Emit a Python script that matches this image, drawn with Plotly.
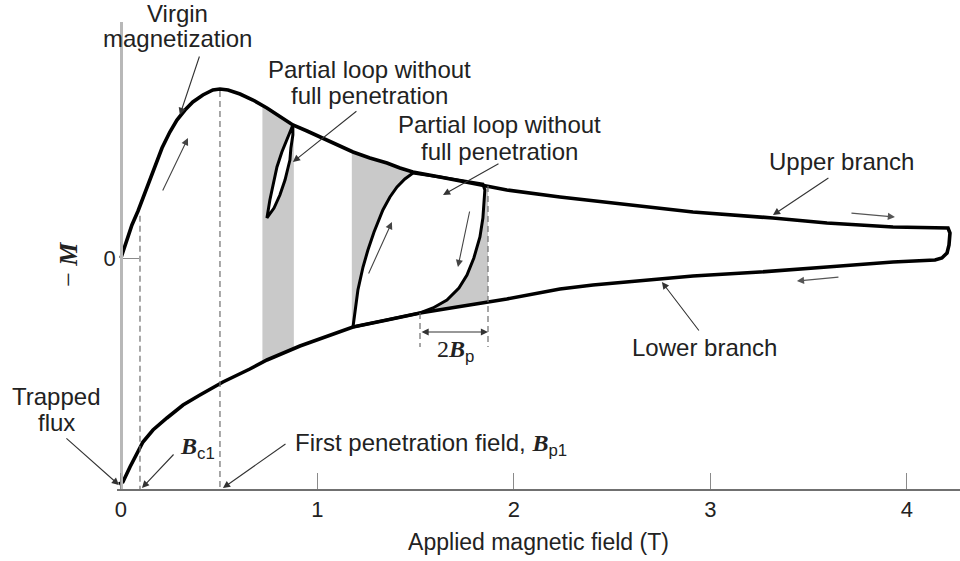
import numpy as np
import plotly.graph_objects as go

# ---------------- data (B in tesla, -M in arbitrary units) ----------------
virgin_B = [0.000, 0.025, 0.056, 0.087, 0.132, 0.173, 0.209, 0.249, 0.285, 0.326, 0.366, 0.417, 0.468, 0.504]
virgin_M = [0.00, 0.15, 0.33, 0.47, 0.71, 0.93, 1.10, 1.26, 1.38, 1.48, 1.56, 1.63, 1.68, 1.69]

upper_B = [0.504, 0.545, 0.606, 0.672, 0.743, 0.809, 0.875, 0.947, 1.028, 1.104, 1.181, 1.267, 1.354,
           1.420, 1.486, 1.623, 1.791, 1.964, 2.234, 2.575, 2.911, 3.318, 3.593, 3.929, 4.209]
upper_M = [1.69, 1.68, 1.64, 1.58, 1.50, 1.42, 1.33, 1.27, 1.20, 1.13, 1.06, 1.00, 0.95,
           0.90, 0.86, 0.81, 0.75, 0.68, 0.61, 0.53, 0.46, 0.40, 0.35, 0.31, 0.30]

turn_B = [4.209, 4.219, 4.214, 4.204, 4.178, 4.143]
turn_M = [0.30, 0.25, 0.13, 0.05, 0.00, -0.02]

lower_B = [4.143, 3.929, 3.593, 3.252, 2.911, 2.743, 2.402, 2.234, 1.964, 1.710, 1.522, 1.354, 1.181,
           0.911, 0.743, 0.656, 0.519, 0.402, 0.316, 0.234, 0.163, 0.112, 0.081, 0.046, 0.010, -0.010]
lower_M = [-0.02, -0.04, -0.09, -0.14, -0.18, -0.21, -0.27, -0.31, -0.41, -0.49, -0.55, -0.62, -0.69,
           -0.88, -1.02, -1.11, -1.24, -1.37, -1.47, -1.60, -1.72, -1.84, -1.95, -2.09, -2.24, -2.26]

loop1_B = [0.875, 0.850, 0.819, 0.794, 0.774, 0.758, 0.743, 0.779, 0.809, 0.835, 0.850, 0.860, 0.865, 0.875, 0.875]
loop1_M = [1.33, 1.21, 1.06, 0.91, 0.73, 0.58, 0.40, 0.50, 0.63, 0.78, 0.90, 0.98, 1.10, 1.23, 1.33]

loop2_B = [1.181, 1.191, 1.206, 1.232, 1.257, 1.288, 1.333, 1.369, 1.405, 1.445, 1.486, 1.623, 1.751,
           1.842, 1.852, 1.847, 1.842, 1.827, 1.796, 1.761, 1.720, 1.659, 1.588, 1.522, 1.354, 1.181]
loop2_M = [-0.69, -0.52, -0.32, -0.09, 0.08, 0.26, 0.48, 0.61, 0.71, 0.79, 0.85, 0.81, 0.77,
           0.74, 0.68, 0.53, 0.40, 0.21, 0.00, -0.17, -0.30, -0.42, -0.50, -0.55, -0.62, -0.69]

stripe1_B = [0.72, 0.88]
stripe2_B = [1.175, 1.868]
Bc1 = 0.097
Bp1 = 0.504
twoBp_B = [1.522, 1.868]

x_ticks = [0, 1, 2, 3, 4]
x_ticktext = ["0", "1", "2", "3", "4"]

# ---------------- styles ----------------
SANS = "Liberation Sans, Arial, Helvetica, sans-serif"
SERIF = "Liberation Serif, Times New Roman, serif"
TXT = "#222222"
LBL = 24
CURVE_W = 3.6
GRAY_FILL = "#c9c9c9"

XR = [-0.02, 4.27]
YR = [-2.31, 2.36]

ubA, umA = np.array(upper_B), np.array(upper_M)
lbA, lmA = np.array(lower_B[::-1]), np.array(lower_M[::-1])


def px(x):
    return (x - XR[0]) / (XR[1] - XR[0])


def py(y):
    return (y - YR[0]) / (YR[1] - YR[0])


def stripe(b0, b1):
    xt = [b0] + [b for b in upper_B if b0 < b < b1] + [b1]
    yt = list(np.interp(xt, ubA, umA))
    xb = [b1] + [b for b in lower_B if b0 < b < b1] + [b0]
    yb = list(np.interp(xb, lbA, lmA))
    return xt + xb + [b0], yt + yb + [yt[0]]


fig = go.Figure()

for s in (stripe1_B, stripe2_B):
    sx, sy = stripe(*s)
    fig.add_trace(go.Scatter(x=sx, y=sy, mode="lines", fill="toself", fillcolor=GRAY_FILL,
                             line=dict(width=0, color=GRAY_FILL), hoverinfo="skip", showlegend=False))

for lb, lm in ((loop1_B, loop1_M), (loop2_B, loop2_M)):
    fig.add_trace(go.Scatter(x=lb, y=lm, mode="lines", fill="toself", fillcolor="white",
                             line=dict(width=CURVE_W - 0.6, color="black"), hoverinfo="skip",
                             showlegend=False))

path_B = virgin_B + upper_B[1:] + turn_B[1:] + lower_B[1:]
path_M = virgin_M + upper_M[1:] + turn_M[1:] + lower_M[1:]
fig.add_trace(go.Scatter(x=path_B, y=path_M, mode="lines",
                         line=dict(width=CURVE_W, color="black", shape="linear"),
                         hoverinfo="skip", showlegend=False))

# ---------------- dashed guide lines ----------------
dash_col = "#6e6e6e"
y_bottom = YR[0]
y_low_2bp = -0.89
guides = [
    (Bc1, float(np.interp(Bc1, virgin_B, virgin_M)) - 0.10, y_bottom),
    (Bp1, float(np.interp(Bp1, upper_B, upper_M)) - 0.02, y_bottom),
    (twoBp_B[0], float(np.interp(twoBp_B[0], lbA, lmA)), y_low_2bp),
    (twoBp_B[1], float(np.interp(twoBp_B[1], ubA, umA)), y_low_2bp),
]
for gx, gy0, gy1 in guides:
    fig.add_shape(type="line", xref="x", yref="y", x0=gx, x1=gx, y0=gy0, y1=gy1,
                  line=dict(color=dash_col, width=1.2, dash="6px,4px"), layer="above")

# ---------------- arrows ----------------
def arrow(tail, head, color="#333333", width=1.1, size=1.3, head_style=2, side="end"):
    fig.add_annotation(x=head[0], y=head[1], ax=tail[0], ay=tail[1], xref="x", yref="y",
                       axref="x", ayref="y", text="", showarrow=True, arrowhead=head_style,
                       startarrowhead=head_style, arrowside=side, arrowsize=size,
                       startarrowsize=size, arrowwidth=width, arrowcolor=color)

arrow((0.402, 2.03), (0.300, 1.43))        # virgin magnetization label
arrow((0.209, 0.66), (0.341, 1.20), color="#444444")   # flow along virgin curve
arrow((1.206, 1.48), (0.875, 0.96))        # partial loop 1 label
arrow((1.929, 0.95), (1.639, 0.63))        # partial loop 2 label
arrow((1.257, -0.17), (1.379, 0.36), color="#444444")  # loop 2 ascending
arrow((1.776, 0.48), (1.715, -0.09), color="#444444")  # loop 2 descending
arrow((3.608, 0.81), (3.318, 0.43))        # upper branch label
arrow((3.710, 0.45), (3.939, 0.41), color="#555555")   # upper flow
arrow((3.659, -0.19), (3.440, -0.23), color="#555555") # lower flow
arrow((2.947, -0.74), (2.753, -0.24))      # lower branch label
arrow((-0.285, -1.79), (-0.010, -2.27))    # trapped flux
arrow((0.275, -1.95), (0.107, -2.30))      # Bc1
arrow((0.845, -1.85), (0.519, -2.30))      # first penetration field
arrow((twoBp_B[0], -0.74), (twoBp_B[1], -0.74), side="end+start")  # 2Bp

# ---------------- text labels (placed in paper coords so they may sit outside the axes) ----------------
def label(txt, x, y, xanchor="center", size=LBL, family=SANS, angle=0):
    fig.add_annotation(x=px(x), y=py(y), xref="paper", yref="paper", text=txt, showarrow=False,
                       xanchor=xanchor, yanchor="middle", textangle=angle,
                       font=dict(family=family, size=size, color=TXT))

def italB():
    return "<span style='font-family:Liberation Serif, Times New Roman, serif'><b><i>B</i></b></span>"

label("Virgin", 0.290, 2.45)
label("magnetization", 0.290, 2.19)
label("Partial loop without", 1.267, 1.885)
label("full penetration", 1.267, 1.62)
label("Partial loop without", 1.929, 1.335)
label("full penetration", 1.929, 1.07)
label("Upper branch", 3.669, 0.96)
label("Lower branch", 2.972, -0.89)
label("Trapped", -0.326, -1.38)
label("flux", -0.326, -1.64)
label(italB() + "<sub>c1</sub>", 0.290, -1.90, xanchor="left")
label("First penetration field, " + italB() + "<sub>p1</sub>", 0.875, -1.86, xanchor="left")
label("<span style='font-family:Liberation Serif, Times New Roman, serif'>2</span>" + italB() + "<sub>p</sub>",
      1.598, -0.93, xanchor="left")
label("\u2212 <b><i>M</i></b>", -0.270, -0.06, size=26, family=SERIF, angle=-90)

# ---------------- layout ----------------
fig.update_layout(
    width=960, height=561, autosize=False,
    margin=dict(l=117, r=0, t=22, b=72, pad=0),
    paper_bgcolor="white", plot_bgcolor="white",
    font=dict(family=SANS, color=TXT, size=22),
    showlegend=False,
    xaxis=dict(range=XR, showgrid=False, zeroline=False, showline=True, linecolor="#707070",
               linewidth=1.5, ticks="inside", ticklen=16, tickwidth=1.3, tickcolor="#8a8a8a",
               tickvals=x_ticks, ticktext=x_ticktext, tickfont=dict(size=22, color=TXT),
               title=dict(text="Applied magnetic field (T)", font=dict(size=23, color=TXT), standoff=13),
               fixedrange=True),
    yaxis=dict(range=YR, showgrid=False, zeroline=False, showline=True, linecolor="#b8b8b8",
               linewidth=2.5, ticks="inside", ticklen=16, tickwidth=1.3, tickcolor="#8a8a8a",
               tickvals=[0], ticktext=["0"], tickfont=dict(size=22, color=TXT),
               anchor="free", position=px(0), fixedrange=True),
)

fig.write_html("out.html")
